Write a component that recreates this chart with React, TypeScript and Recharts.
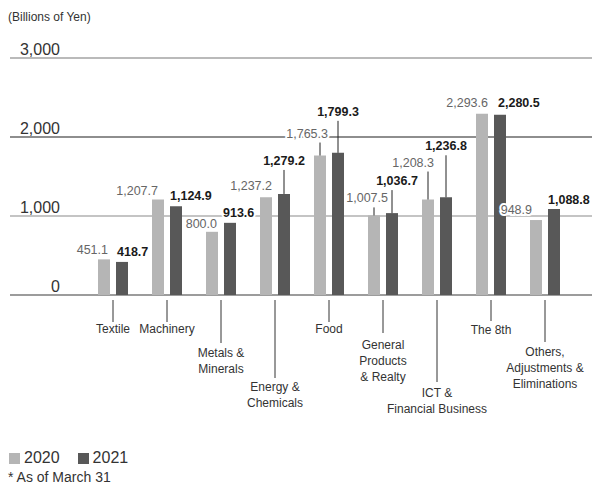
import { BarChart, Bar, XAxis, YAxis, CartesianGrid, LabelList } from 'recharts';

const categories = [
  'Textile',
  'Machinery',
  'Metals &\nMinerals',
  'Energy &\nChemicals',
  'Food',
  'General\nProducts\n& Realty',
  'ICT &\nFinancial Business',
  'The 8th',
  'Others,\nAdjustments &\nEliminations',
];
const values2020 = [451.1, 1207.7, 800.0, 1237.2, 1765.3, 1007.5, 1208.3, 2293.6, 948.9];
const values2021 = [418.7, 1124.9, 913.6, 1279.2, 1799.3, 1036.7, 1236.8, 2280.5, 1088.8];
const yTicks = [0, 1000, 2000, 3000];
const seriesNames = ['2020', '2021'];
const seriesColors = ['#b5b5b5', '#585858'];

const FONT = '"Liberation Sans", Arial, Helvetica, sans-serif';

// grid line colours, one per y tick
const gridColors = ['#3a3a3a', '#8a8a8a', '#1e1e1e', '#777'];

// category tick: length of the drop line and centre of first text line (below axis + 5)
const tickDrop = [22, 22, 43, 78, 22, 33, 82, 21, 42];
const tickTextTop = [29, 29, 53, 87, 29, 45, 93, 30, 52];

type LabelPos = { anchor: 'start' | 'middle' | 'end'; dx: number; rise: number; leader?: boolean };

const labelPos2020: LabelPos[] = [
  { anchor: 'end', dx: 4, rise: 5 },
  { anchor: 'end', dx: 0, rise: 5 },
  { anchor: 'end', dx: 5, rise: 4 },
  { anchor: 'end', dx: 6, rise: 7 },
  { anchor: 'end', dx: 8, rise: 18, leader: true },
  { anchor: 'end', dx: 14, rise: 13, leader: true },
  { anchor: 'end', dx: 6, rise: 33, leader: true },
  { anchor: 'end', dx: 6, rise: 7 },
  { anchor: 'end', dx: -4, rise: 6 },
];

const labelPos2021: LabelPos[] = [
  { anchor: 'start', dx: -5, rise: 6 },
  { anchor: 'start', dx: -6, rise: 6 },
  { anchor: 'start', dx: -7, rise: 6 },
  { anchor: 'middle', dx: 0, rise: 29, leader: true },
  { anchor: 'middle', dx: 0, rise: 37, leader: true },
  { anchor: 'middle', dx: 5, rise: 28, leader: true },
  { anchor: 'middle', dx: 0, rise: 47, leader: true },
  { anchor: 'start', dx: -2, rise: 8 },
  { anchor: 'start', dx: -6, rise: 5 },
];

const data = categories.map((name, i) => ({
  name,
  v2020: values2020[i],
  v2021: values2021[i],
}));

const fmt = (v: number) => v.toLocaleString('en-US', { minimumFractionDigits: 1, maximumFractionDigits: 1 });

function makeLabel(layout: LabelPos[], bold: boolean) {
  return (props: any) => {
    const { x, y, width, value, index } = props;
    const p = layout[index];
    if (!p) return null;
    const cx = Number(x) + Number(width) / 2;
    const top = Number(y);
    const base = top - p.rise;
    return (
      <g>
        {p.leader && <line x1={cx} x2={cx} y1={base + 5} y2={top} stroke="#222" strokeWidth={1} />}
        <text
          x={cx + p.dx}
          y={base}
          textAnchor={p.anchor}
          fontFamily={FONT}
          fontSize={12.5}
          fontWeight={bold ? 700 : 400}
          fill={bold ? '#1a1a1a' : '#666'}
          stroke="#fff"
          strokeWidth={4}
          paintOrder="stroke"
        >
          {fmt(Number(value))}
        </text>
      </g>
    );
  };
}

function CategoryTick(props: any) {
  const { x, y, payload, index } = props;
  const lines = String(payload.value).split('\n');
  const start = y + 5;
  return (
    <g>
      <line x1={x} x2={x} y1={start} y2={start + tickDrop[index]} stroke="#333" strokeWidth={1} />
      {lines.map((ln, i) => (
        <text
          key={i}
          x={x}
          y={start + tickTextTop[index] + i * 16 + 4}
          textAnchor="middle"
          fontFamily={FONT}
          fontSize={12}
          fill="#333"
        >
          {ln}
        </text>
      ))}
    </g>
  );
}

// grid line plus its value label, drawn under the bars
function GridLine(props: any) {
  const { x1, x2, y1, index } = props;
  const v = yTicks[index];
  if (v === undefined) return null;
  return (
    <g>
      <line x1={x1} x2={x2} y1={y1} y2={y1} stroke={gridColors[index]} strokeWidth={1.2} />
      <text x={60} y={y1 - 3} textAnchor="end" fontFamily={FONT} fontSize={16} fill="#333">
        {v.toLocaleString('en-US')}
      </text>
    </g>
  );
}

export default function App() {
  return (
    <div style={{ position: 'absolute', left: 0, top: 0, width: 592, height: 486, background: '#fff', fontFamily: FONT }}>
      <div style={{ position: 'absolute', left: 8, top: 10, fontSize: 12, color: '#333' }}>(Billions of Yen)</div>
      <BarChart
        width={592}
        height={486}
        data={data}
        margin={{ top: 58, right: 0, bottom: 161, left: 10 }}
        barSize={12}
        barGap={6}
      >
        <CartesianGrid vertical={false} horizontal={GridLine} />
        <XAxis
          dataKey="name"
          height={30}
          padding={{ left: 76, right: 20 }}
          axisLine={false}
          tickLine={false}
          tickSize={0}
          tickMargin={0}
          interval={0}
          tick={<CategoryTick />}
        />
        <YAxis hide domain={[0, 3000]} ticks={yTicks} />
        <Bar dataKey="v2020" name={seriesNames[0]} fill={seriesColors[0]} isAnimationActive={false}>
          <LabelList dataKey="v2020" content={makeLabel(labelPos2020, false)} />
        </Bar>
        <Bar dataKey="v2021" name={seriesNames[1]} fill={seriesColors[1]} isAnimationActive={false}>
          <LabelList dataKey="v2021" content={makeLabel(labelPos2021, true)} />
        </Bar>
      </BarChart>
      <div style={{ position: 'absolute', left: 9, top: 449, display: 'flex', alignItems: 'center', fontSize: 16, color: '#333' }}>
        {seriesNames.map((n, i) => (
          <span key={n} style={{ display: 'flex', alignItems: 'center', marginRight: 18 }}>
            <span style={{ display: 'inline-block', width: 11, height: 11, background: seriesColors[i], marginRight: 4 }} />
            {n}
          </span>
        ))}
      </div>
      <div style={{ position: 'absolute', left: 8, top: 469, fontSize: 14, color: '#333' }}>* As of March 31</div>
    </div>
  );
}
